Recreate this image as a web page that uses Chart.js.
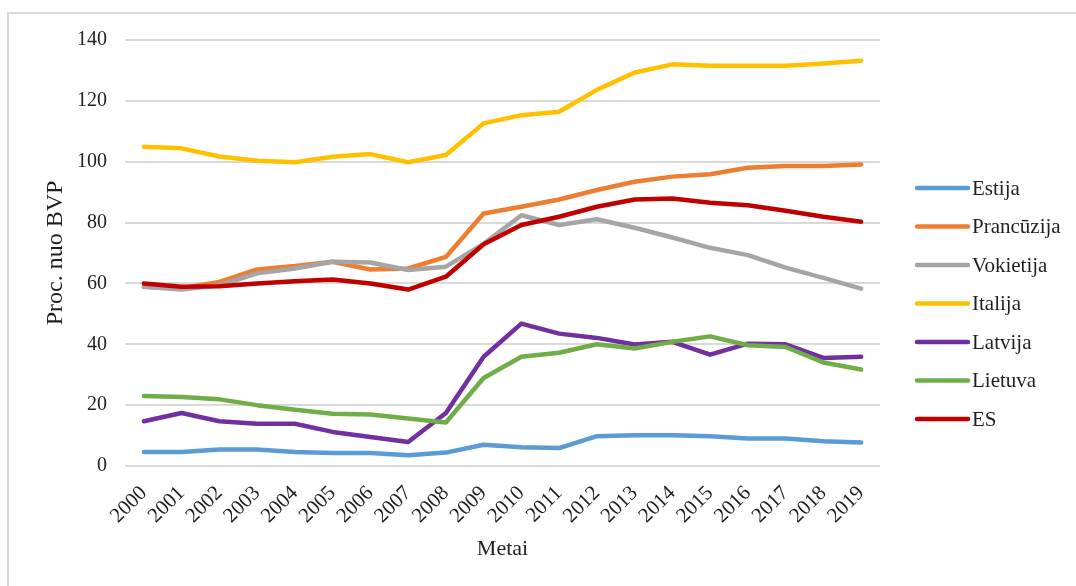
<!DOCTYPE html>
<html lang="lt">
<head>
<meta charset="utf-8">
<title>Valdžios skola, proc. nuo BVP</title>
<script src="https://cdn.jsdelivr.net/npm/chart.js@4.4.1/dist/chart.umd.min.js"></script>
<style>
  html, body { margin: 0; padding: 0; background: #ffffff; }
  #wrap { width: 1076px; height: 586px; position: relative; }
</style>
</head>
<body>
<div id="wrap"><canvas id="c" width="1076" height="586"></canvas></div>
<script>
// Metai
const years = ['2000','2001','2002','2003','2004','2005','2006','2007','2008','2009',
               '2010','2011','2012','2013','2014','2015','2016','2017','2018','2019'];

// Valdžios skola, proc. nuo BVP
const estija     = [4.6, 4.6, 5.4, 5.4, 4.6, 4.3, 4.3, 3.5, 4.4, 7.0, 6.2, 5.9, 9.8, 10.1, 10.1, 9.8, 9.0, 9.0, 8.1, 7.7];
const prancuzija = [58.9, 58.4, 60.5, 64.6, 65.7, 67.1, 64.6, 64.9, 68.7, 83.0, 85.2, 87.6, 90.7, 93.4, 95.1, 95.9, 98.0, 98.6, 98.6, 99.1];
const vokietija  = [58.9, 58.0, 59.4, 63.3, 64.9, 67.1, 66.9, 64.4, 65.5, 73.0, 82.4, 79.2, 81.1, 78.3, 75.1, 71.7, 69.3, 65.2, 61.8, 58.3];
const italija    = [104.9, 104.4, 101.7, 100.3, 99.8, 101.6, 102.5, 99.8, 102.2, 112.6, 115.3, 116.4, 123.6, 129.3, 132.0, 131.5, 131.5, 131.5, 132.3, 133.2];
const latvija    = [14.7, 17.4, 14.7, 13.9, 13.9, 11.2, 9.5, 7.9, 17.4, 35.9, 46.8, 43.5, 42.1, 39.9, 40.8, 36.6, 40.2, 40.0, 35.5, 35.9];
const lietuva    = [23.0, 22.7, 21.9, 20.0, 18.5, 17.2, 16.9, 15.6, 14.3, 28.9, 35.9, 37.2, 40.0, 38.6, 40.8, 42.6, 39.7, 39.1, 34.0, 31.7];
const es         = [60.0, 58.9, 59.1, 60.0, 60.7, 61.3, 60.0, 58.0, 62.2, 72.9, 79.2, 81.9, 85.2, 87.6, 87.9, 86.5, 85.7, 83.9, 81.9, 80.3];

// Y ašies ribos
const yMin = 0, yMax = 140, yStep = 20;

const seriesNames  = ['Estija', 'Prancūzija', 'Vokietija', 'Italija', 'Latvija', 'Lietuva', 'ES'];
const seriesValues = [estija, prancuzija, vokietija, italija, latvija, lietuva, es];
const seriesColors = ['#5B9BD5', '#ED7D31', '#A5A5A5', '#FFC000', '#7030A0', '#70AD47', '#C00000'];

const SERIF = '"Liberation Serif", "Times New Roman", serif';
const TEXT = '#1f1f1f';

const datasets = seriesNames.map((name, i) => ({
  label: name,
  data: seriesValues[i],
  borderColor: seriesColors[i],
  backgroundColor: seriesColors[i],
  borderWidth: 4.5,
  pointRadius: 0,
  pointHoverRadius: 0,
  tension: 0,
  borderCapStyle: 'round',
  borderJoinStyle: 'round',
  fill: false,
  // later series are painted over earlier ones
  order: seriesNames.length - i
}));

// White background and the thin frame along the top and left edges
const framePlugin = {
  id: 'frame',
  beforeDraw(chart) {
    const ctx = chart.ctx;
    ctx.save();
    ctx.fillStyle = '#ffffff';
    ctx.fillRect(0, 0, chart.width, chart.height);
    ctx.strokeStyle = '#d9d9d9';
    ctx.lineWidth = 2;
    ctx.beginPath();
    ctx.moveTo(chart.width, 13);
    ctx.lineTo(8, 13);
    ctx.lineTo(8, chart.height);
    ctx.stroke();
    ctx.restore();
  }
};

// Vertical legend to the right of the plot
const sideLegend = {
  id: 'sideLegend',
  afterDraw(chart) {
    const ctx = chart.ctx;
    const x0 = chart.chartArea.right + 37;
    const lineLen = 51;
    const top = 188;
    const step = 38.5;
    ctx.save();
    ctx.font = '21px ' + SERIF;
    ctx.textBaseline = 'middle';
    ctx.textAlign = 'left';
    chart.data.datasets.forEach((ds, i) => {
      const y = top + i * step;
      ctx.strokeStyle = ds.borderColor;
      ctx.lineWidth = 4.5;
      ctx.lineCap = 'round';
      ctx.beginPath();
      ctx.moveTo(x0, y);
      ctx.lineTo(x0 + lineLen, y);
      ctx.stroke();
      ctx.fillStyle = TEXT;
      ctx.fillText(ds.label, x0 + lineLen + 4, y + 1);
    });
    ctx.restore();
  }
};

new Chart(document.getElementById('c'), {
  type: 'line',
  data: { labels: years, datasets: datasets },
  plugins: [framePlugin, sideLegend],
  options: {
    responsive: false,
    animation: false,
    events: [],
    layout: { padding: { top: 40, right: 196, bottom: 0, left: 0 } },
    plugins: {
      legend: { display: false },
      tooltip: { enabled: false },
      title: { display: false }
    },
    scales: {
      x: {
        type: 'category',
        offset: true,
        grid: { display: false, drawTicks: false },
        border: { display: false },
        ticks: {
          autoSkip: false,
          minRotation: 45,
          maxRotation: 45,
          padding: 15,
          color: TEXT,
          font: { family: SERIF, size: 21 }
        },
        title: {
          display: true,
          text: 'Metai',
          color: TEXT,
          font: { family: SERIF, size: 22 },
          padding: { top: 0, bottom: 24 }
        },
        afterFit(scale) { scale.height = 120; }
      },
      y: {
        min: yMin,
        max: yMax,
        grid: { color: '#d9d9d9', lineWidth: 2, drawTicks: false },
        border: { display: false },
        ticks: {
          stepSize: yStep,
          padding: 18,
          color: TEXT,
          font: { family: SERIF, size: 20 }
        },
        title: {
          display: true,
          text: 'Proc. nuo BVP',
          color: TEXT,
          font: { family: SERIF, size: 24 },
          padding: { top: 41, bottom: 0 }
        },
        afterFit(scale) { scale.width = 125; }
      }
    }
  }
});
</script>
</body>
</html>
